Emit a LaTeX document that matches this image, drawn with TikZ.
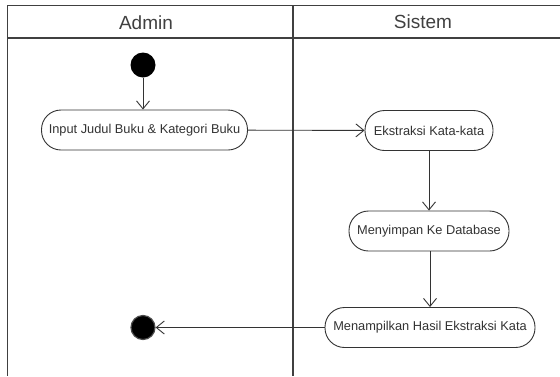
\documentclass[tikz,border=0pt]{standalone}
\usepackage{fontspec}
\setmainfont{Liberation Sans}
\usetikzlibrary{arrows.meta}
\begin{document}
\begin{tikzpicture}[x=1pt,y=1pt,
  lane/.style={draw=black!75,line width=1.1pt},
  action/.style={draw=black!80,line width=0.9pt,rounded corners=19.5pt,
    minimum height=40pt,inner xsep=0pt,text=black!80,
    font=\fontsize{12.8}{15}\selectfont},
  header/.style={text=black!75,font=\fontsize{19}{22}\selectfont},
  flow/.style={draw=black!80,line width=0.9pt,
    -{Straight Barb[length=8pt,width=13pt,line width=0.9pt]}},
  startdot/.style={circle,fill=black,minimum size=25pt,inner sep=0pt},
  enddot/.style={circle,draw=black!70,line width=1.2pt,fill=black,minimum size=24pt,inner sep=0pt}]
  \useasboundingbox (0,0) rectangle (560,-376);
  \fill[white] (0,0) rectangle (560,-376);

  % swimlane frame
  \draw[lane] (560,-5.5) -- (7.5,-5.5) -- (7.5,-376);
  \draw[lane] (7.5,-38) -- (560,-38);
  \draw[lane] (293,-5.5) -- (293,-376);
  \node[header] (hAdmin) at (146,-22.5) {Admin};
  \node[header] (hSistem) at (423,-22) {Sistem};

  % nodes
  \node[startdot] (start) at (143,-65) {};
  \node[action,minimum width=206pt] (input) at (144.5,-130) {Input Judul Buku \& Kategori Buku};
  \node[action,minimum width=128pt] (ekstraksi) at (429,-130.5) {Ekstraksi Kata-kata};
  \node[action,minimum width=160pt] (simpan) at (429,-231) {Menyimpan Ke Database};
  \node[action,minimum width=210pt] (tampil) at (430,-327.5) {Menampilkan Hasil Ekstraksi Kata};
  \node[enddot] (end) at (143,-327.5) {};

  % control flow
  \draw[flow] (start) -- (start |- input.north);
  \draw[flow] (input) -- (ekstraksi);
  \draw[flow] (ekstraksi) -- (simpan);
  \draw[flow] (simpan.south -| tampil) -- (tampil);
  \draw[flow] (tampil) -- (end);
\end{tikzpicture}
\end{document}
